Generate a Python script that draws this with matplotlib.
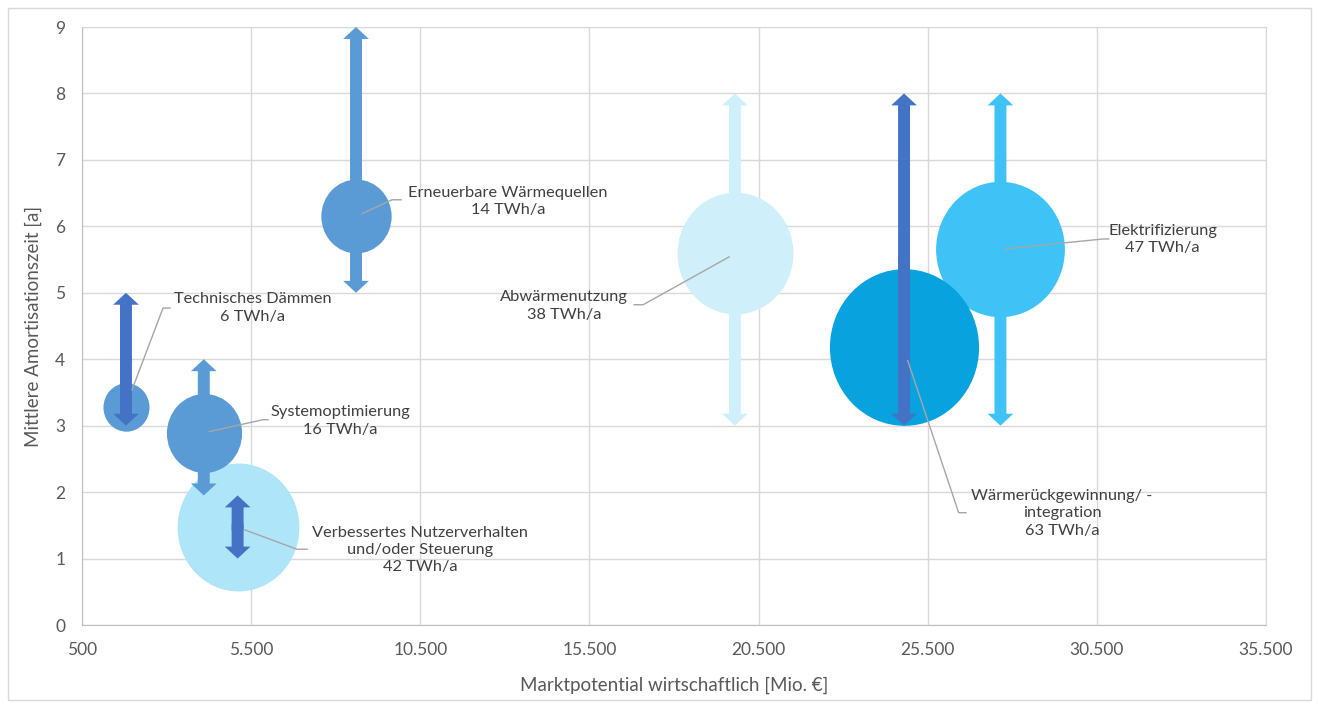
import numpy as np
import matplotlib
matplotlib.use("Agg")
import matplotlib.pyplot as plt
from matplotlib.path import Path
from matplotlib.markers import MarkerStyle
from matplotlib.transforms import Affine2D
from matplotlib.patches import Rectangle

plt.rcParams['font.family'] = ['Lato', 'DejaVu Sans']

# data (drawing order = order of the lists)
names = ["Technisches Dämmen", "Verbessertes Nutzerverhalten\nund/oder Steuerung",
         "Systemoptimierung", "Erneuerbare Wärmequellen", "Abwärmenutzung",
         "Elektrifizierung", "Wärmerückgewinnung/ -\nintegration"]
potential = [1800, 5100, 4100, 8600, 19800, 27650, 24800]     # Mio. €
amortisation = [3.28, 1.48, 2.89, 6.16, 5.6, 5.66, 4.19]       # a
twh = [6, 42, 16, 14, 38, 47, 63]                              # TWh/a
range_low = [3.0, 1.0, 1.95, 5.0, 3.0, 3.0, 3.0]
range_high = [5.0, 1.95, 4.0, 9.0, 8.0, 8.0, 8.0]

xticks = [500, 5500, 10500, 15500, 20500, 25500, 30500, 35500]
yticks = [0, 1, 2, 3, 4, 5, 6, 7, 8, 9]

# styles / layout
bubble_col = ['#5B9BD5', '#AEE5F9', '#5B9BD5', '#5B9BD5', '#CFEFFB', '#3FC3F7', '#08A2DF']
arrow_col = ['#4472C4', '#4472C4', '#5B9BD5', '#5B9BD5', '#CFEFFB', '#3FC3F7', '#4472C4']
# label centre, leader line (start, knee, end)
label_xy = [(5556, 4.77), (10494, 1.13), (8129, 3.07), (13097, 6.37),
            (14752, 4.80), (32449, 5.80), (29467, 1.68)]
leaders = [
    [(1978, 3.54), (2895, 4.77), (3102, 4.77)],
    [(5320, 1.43), (6858, 1.14), (7154, 1.14)],
    [(4255, 2.91), (5852, 3.09), (6000, 3.09)],
    [(8779, 6.19), (9666, 6.40), (9932, 6.40)],
    [(19630, 5.54), (17088, 4.82), (16822, 4.82)],
    [(27764, 5.66), (30687, 5.81), (30850, 5.81)],
    [(24909, 3.98), (26415, 1.69), (26632, 1.69)],
]

fig = plt.figure(figsize=(13.18, 7.04), dpi=100)
ax = fig.add_axes([82/1318, 79/704, 1184/1318, 598/704])

fig.patches.append(Rectangle((8/1318, 4/704), 1303/1318, 692/704, transform=fig.transFigure,
                             fill=False, edgecolor='#D9D9D9', lw=1))

# slightly taller than wide bubbles, like the original
ell = Path.unit_circle().transformed(Affine2D().scale(0.952, 1.0))
marker = MarkerStyle(ell)

for i in range(len(names)):
    ax.scatter([potential[i]], [amortisation[i]], s=twh[i] * 202, marker=marker,
               color=bubble_col[i], linewidths=0, zorder=2)

arrow_style = "simple,head_length=8.6,head_width=18.5,tail_width=8.6"
for i in range(len(names)):
    mid = (range_low[i] + range_high[i]) / 2
    ax.annotate('', xy=(potential[i], range_high[i]), xytext=(potential[i], mid - 0.05),
                arrowprops=dict(arrowstyle=arrow_style, mutation_scale=1, color=arrow_col[i],
                                lw=0, shrinkA=0, shrinkB=0),
                zorder=3, annotation_clip=False)
    ax.annotate('', xy=(potential[i], range_low[i]), xytext=(potential[i], mid + 0.05),
                arrowprops=dict(arrowstyle=arrow_style, mutation_scale=1, color=arrow_col[i],
                                lw=0, shrinkA=0, shrinkB=0),
                zorder=3, annotation_clip=False)

for i in range(len(names)):
    pts = np.array(leaders[i])
    ax.plot(pts[:, 0], pts[:, 1], color='#A6A6A6', lw=1, zorder=4)
    ax.text(label_xy[i][0], label_xy[i][1], names[i] + "\n" + str(twh[i]) + " TWh/a",
            ha='center', va='center', multialignment='center', fontsize=11.8,
            color='#404040', linespacing=1.3, zorder=5)

ax.set_xlim(500, 35500)
ax.set_ylim(0, 9)
ax.set_xticks(xticks)
ax.set_xticklabels([f"{v:,}".replace(",", ".") for v in xticks])
ax.set_yticks(yticks)
ax.grid(True, color='#D9D9D9', lw=1)
ax.set_axisbelow(True)
for s in ax.spines.values():
    s.set_color('#D9D9D9')
ax.spines['bottom'].set_color('#BFBFBF')
ax.spines['left'].set_color('#BFBFBF')
ax.tick_params(length=0, labelsize=12.5, labelcolor='#595959')
ax.tick_params(axis='x', pad=12)
ax.tick_params(axis='y', pad=12)

ax.set_xlabel("Marktpotential wirtschaftlich [Mio. €]", fontsize=13.5, color='#595959')
ax.set_ylabel("Mittlere Amortisationszeit [a]", fontsize=13.5, color='#595959')
ax.xaxis.set_label_coords(0.5, -0.087)
ax.yaxis.set_label_coords(-0.034, 0.5)

fig.savefig("out.png", dpi=100)
